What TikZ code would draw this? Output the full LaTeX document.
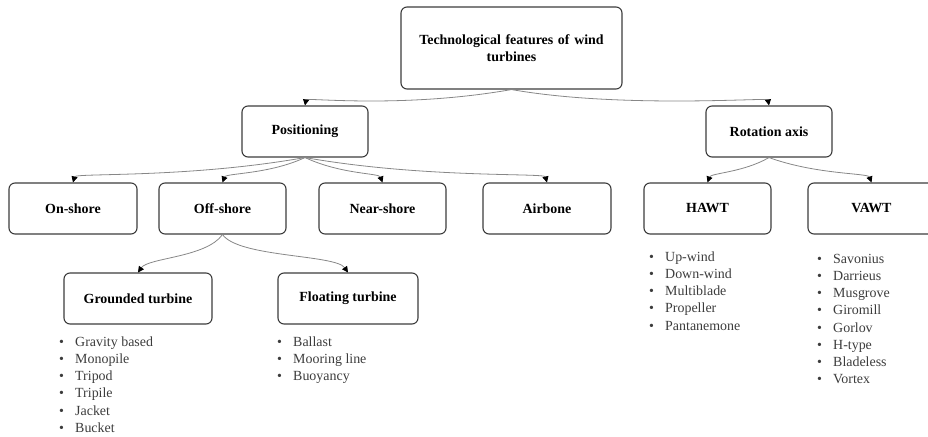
\documentclass[tikz,border=0pt]{standalone}
\usepackage{fontspec}
\setmainfont{Liberation Serif}
\usetikzlibrary{arrows.meta}
\definecolor{boxline}{RGB}{60,60,60}
\definecolor{connline}{RGB}{135,135,135}
\definecolor{listtext}{RGB}{60,60,60}
\tikzset{
  box/.style={draw=boxline, line width=1.1bp, rounded corners=6bp, fill=white,
    minimum height=51bp, inner sep=2bp, align=center,
    font=\fontsize{14}{16.5}\selectfont\bfseries},
  conn/.style={draw=connline, line width=0.8bp,
    -{Triangle[length=6bp,width=6bp,color=black]}},
  bulletlist/.style={anchor=base west, inner sep=0pt,
    text=listtext, font=\fontsize{14}{17.2}\selectfont}
}
\newcommand{\bitem}[1]{\makebox[16bp][l]{\textbullet}#1}
\begin{document}
\begin{tikzpicture}[x=1bp,y=-1bp]
\useasboundingbox (0,0) rectangle (928,437);
\begin{scope}
\clip (0,0) rectangle (928,437);
% boxes
\node[box, minimum width=221bp, minimum height=82bp, text width=205bp] (top) at (511.5,48) {Technological features of wind\\turbines};
\node[box, minimum width=126bp] (pos) at (305,131.5) {Positioning};
\node[box, minimum width=126bp] (rot) at (769,131.5) {Rotation axis};
\node[box, minimum width=128bp] (on) at (73,208.5) {On-shore};
\node[box, minimum width=127bp] (off) at (222.5,208.5) {Off-shore};
\node[box, minimum width=127bp] (near) at (382.5,208.5) {Near-shore};
\node[box, minimum width=128bp] (air) at (547,208.5) {Airbone};
\node[box, minimum width=127bp] (hawt) at (707.5,208.5) {HAWT};
\node[box, minimum width=127bp] (vawt) at (871.5,208.5) {VAWT};
\node[box, minimum width=148bp] (grd) at (138,298.5) {Grounded turbine};
\node[box, minimum width=140bp] (flt) at (348,298.5) {Floating turbine};
% connectors
\draw[conn] (top.south) to[out=190,in=80,out distance=110bp,in distance=8bp] (pos.north);
\draw[conn] (top.south) to[out=-10,in=100,out distance=110bp,in distance=8bp] (rot.north);
\draw[conn] (pos.south) to[out=190,in=75,out distance=120bp,in distance=10bp] (on.north);
\draw[conn] (pos.south) to[out=205,in=70,out distance=40bp,in distance=10bp] (off.north);
\draw[conn] (pos.south) to[out=-25,in=110,out distance=40bp,in distance=10bp] (near.north);
\draw[conn] (pos.south) to[out=-10,in=105,out distance=120bp,in distance=10bp] (air.north);
\draw[conn] (rot.south) to[out=210,in=70,out distance=30bp,in distance=10bp] (hawt.north);
\draw[conn] (rot.south) to[out=-20,in=110,out distance=50bp,in distance=10bp] (vawt.north);
\draw[conn] (off.south) to[out=-125,in=55,out distance=28bp,in distance=18bp] (grd.north);
\draw[conn] (off.south) to[out=-55,in=125,out distance=28bp,in distance=22bp] (flt.north);
% lists
\node[bulletlist] (lg) at (59,346.5) {\begin{tabular}[t]{@{}l@{}}\bitem{Gravity based}\\\bitem{Monopile}\\\bitem{Tripod}\\\bitem{Tripile}\\\bitem{Jacket}\\\bitem{Bucket}\end{tabular}};
\node[bulletlist] (lf) at (277,346.5) {\begin{tabular}[t]{@{}l@{}}\bitem{Ballast}\\\bitem{Mooring line}\\\bitem{Buoyancy}\end{tabular}};
\node[bulletlist] (lh) at (649,261.5) {\begin{tabular}[t]{@{}l@{}}\bitem{Up-wind}\\\bitem{Down-wind}\\\bitem{Multiblade}\\\bitem{Propeller}\\\bitem{Pantanemone}\end{tabular}};
\node[bulletlist] (lv) at (817,263.5) {\begin{tabular}[t]{@{}l@{}}\bitem{Savonius}\\\bitem{Darrieus}\\\bitem{Musgrove}\\\bitem{Giromill}\\\bitem{Gorlov}\\\bitem{H-type}\\\bitem{Bladeless}\\\bitem{Vortex}\end{tabular}};
\end{scope}
\end{tikzpicture}
\end{document}
